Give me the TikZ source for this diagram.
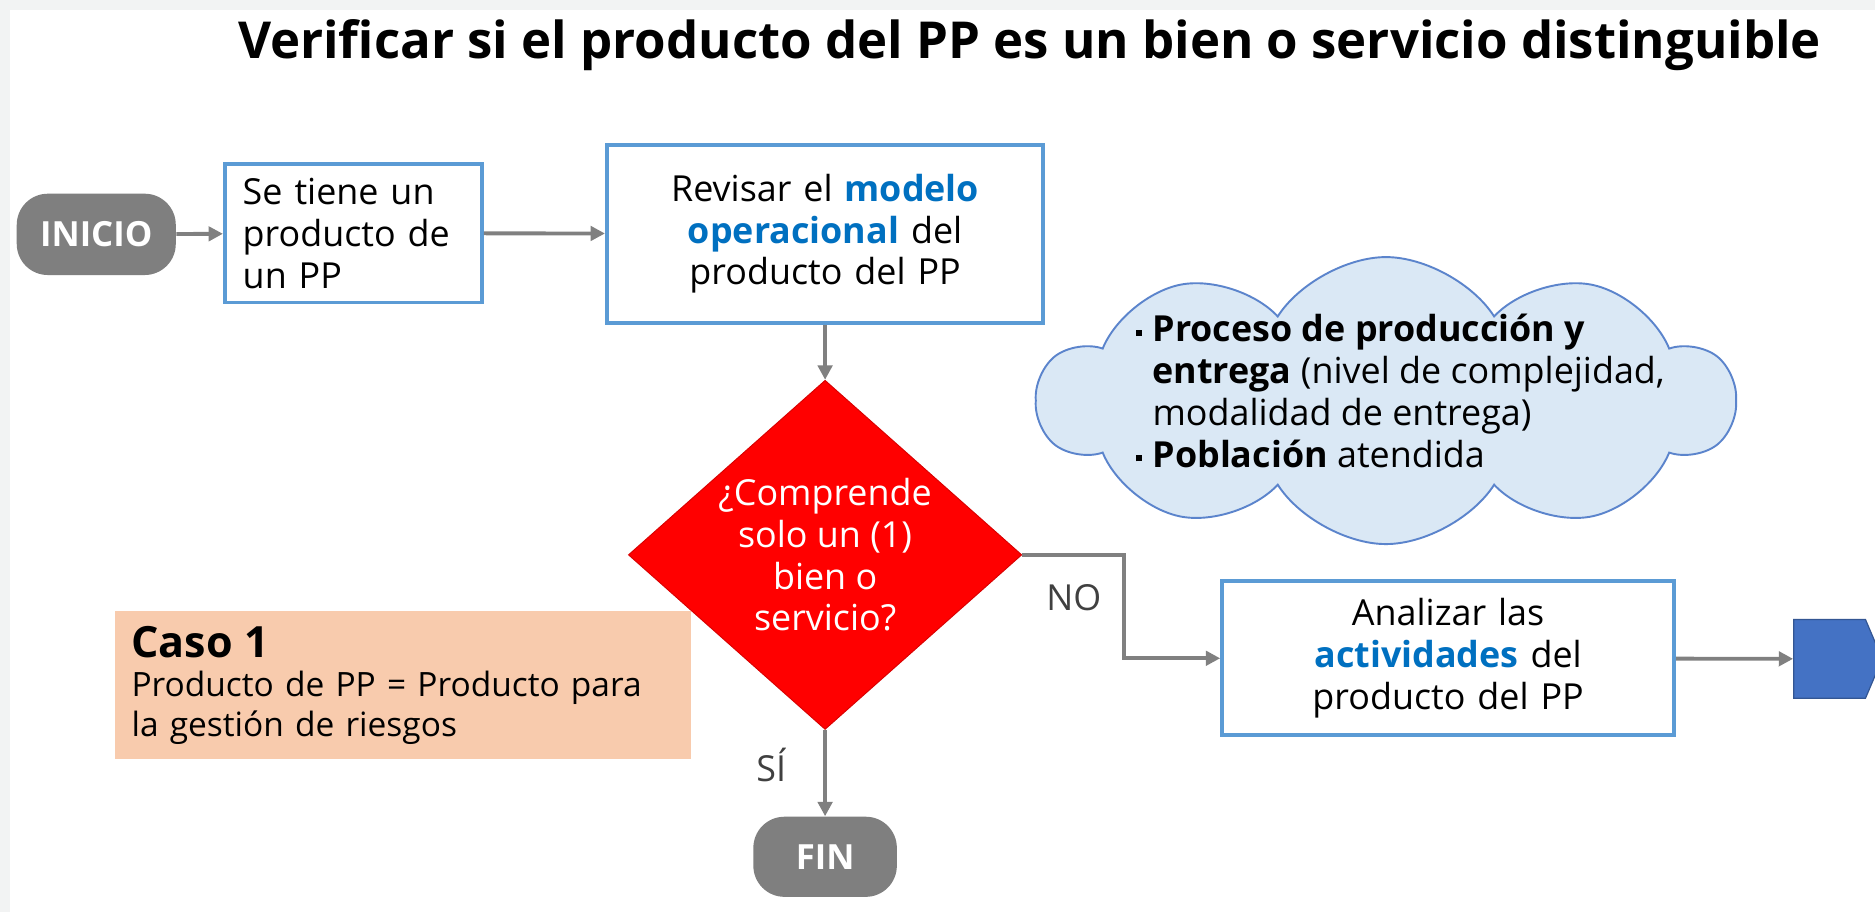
\documentclass[tikz,border=0pt]{standalone}
\usepackage{fontspec}
\setmainfont{Open Sans}
\usepackage{xcolor}
\usetikzlibrary{arrows.meta,shapes.geometric,shapes.symbols}
\definecolor{boxblue}{HTML}{5B9BD5}
\definecolor{wordblue}{HTML}{0070C0}
\definecolor{termgray}{HTML}{7F7F7F}
\definecolor{linegray}{HTML}{808080}
\definecolor{tagtext}{HTML}{404040}
\definecolor{cloudfill}{HTML}{DAE8F5}
\definecolor{cloudline}{HTML}{5B84CC}
\definecolor{casofill}{HTML}{F8CBAD}
\definecolor{pagefill}{HTML}{4472C4}
\definecolor{frame}{HTML}{F2F3F3}
\newcommand{\cbul}{\makebox[7pt][l]{\rule[2.5pt]{2.6pt}{2.6pt}}}
\newcommand{\cind}{\makebox[7pt]{}}

\begin{document}
\begin{tikzpicture}[x=0.5pt,y=-0.5pt,
		every node/.style={font=\fontsize{15}{17.5}\selectfont},
		term/.style={rectangle,rounded corners=13pt,fill=termgray,text=white,
			font=\fontsize{14.5}{17.5}\selectfont\bfseries,inner sep=0},
		proc/.style={rectangle,draw=boxblue,line width=1.6pt,fill=white,
			inner xsep=7.5pt,inner ysep=0},
		decision/.style={diamond,fill=red,draw=red!85!black,line width=0.4pt,inner sep=0},
		flow/.style={draw=linegray,line width=1.6pt,-{Triangle[length=6pt,width=6pt]}},
		tag/.style={text=tagtext}]
	% page
	\fill[frame] (0,0) rectangle (1568,763);
	\fill[white] (8,8) rectangle (1568,763);
	\useasboundingbox (0,0) rectangle (1568,763);

	\node[font=\fontsize{21.3}{25}\selectfont\bfseries] (titulo) at (861,38)
		{Verificar si el producto del PP es un bien o servicio distinguible};

	\node[term,minimum width=66.5pt,minimum height=34pt] (inicio) at (80.5,196) {INICIO};
	\node[proc,minimum height=58pt,text width=92.5pt,align=left] (tiene) at (295.5,195)
		{Se tiene un\\producto de\\un PP};
	\node[proc,minimum height=74.5pt,text width=167.5pt,align=center] (revisar) at (690,195.5)
		{Revisar el \textcolor{wordblue}{\bfseries modelo}\\\textcolor{wordblue}{\bfseries operacional} del\\producto del PP};

	% nube de criterios
	\node[cloud,cloud puffs=10,cloud puff arc=115,cloud ignores aspect,draw=cloudline,
		line width=0.8pt,fill=cloudfill,minimum width=291pt,minimum height=120pt,inner sep=0,
		label={[align=left,xshift=6pt,yshift=4pt]center:{%
			\cbul\textbf{Proceso de producción y}\\
			\cind\textbf{entrega} (nivel de complejidad,\\
			\cind modalidad de entrega)\\
			\cbul\textbf{Población} atendida}}] (nube) at (1159,335) {};

	\node[rectangle,fill=casofill,minimum width=241pt,minimum height=62pt,inner xsep=7pt,
		text width=227pt,align=left,font=\fontsize{14}{16.5}\selectfont] (caso) at (337,573)
		{{\fontsize{18}{20}\selectfont\bfseries Caso 1}\\Producto de PP = Producto para\\la gestión de riesgos};

	\node[decision,minimum width=164.5pt,minimum height=146pt,
		label={[text=white,align=center]center:{¿Comprende\\solo un (1)\\bien o\\servicio?}}] (preg) at (690,464) {};

	\node[proc,minimum height=64.5pt,text width=174pt,align=center] (analizar) at (1211,550.5)
		{Analizar las\\\textcolor{wordblue}{\bfseries actividades} del\\producto del PP};
	\node[signal,signal to=east,signal pointer angle=134,fill=pagefill,draw=pagefill!75!black,
		line width=0.5pt,minimum width=37pt,minimum height=33pt,inner sep=0] (sigue) at (1530,551) {};

	\node[term,minimum width=60pt,minimum height=33.5pt] (fin) at (690,716.5) {FIN};

	\node[tag] (no) at (898,500) {NO};
	\node[tag] (si) at (645,640) {SÍ};
	\coordinate (quiebre) at (940,464);

	\draw[flow] (inicio) -- (tiene);
	\draw[flow] (tiene) -- (revisar);
	\draw[flow] (revisar) -- (preg);
	\draw[flow] (preg.east) -- (quiebre) |- (analizar.west);
	\draw[flow] (analizar) -- (sigue);
	\draw[flow] (preg) -- (fin);
\end{tikzpicture}
\end{document}
